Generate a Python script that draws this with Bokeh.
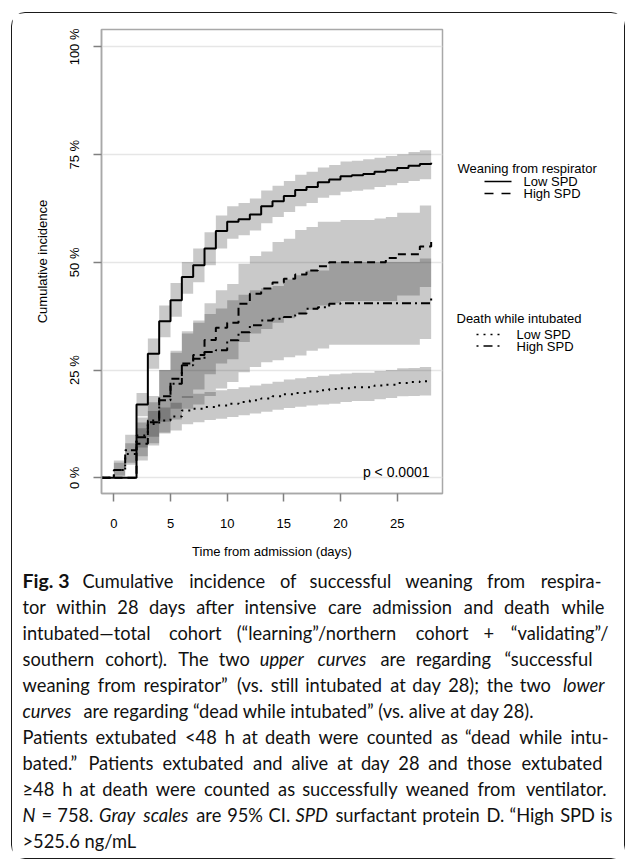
from bokeh.plotting import figure
from bokeh.models import Range1d, FixedTicker, Label
from bokeh.layouts import column, row
from bokeh.embed import file_html
from bokeh.resources import INLINE

# ---------------- data ----------------
x_start = -1.09                      # curves start at the left edge of the panel
step_days = list(range(0, 29))       # value at day d holds on [d, d+1); day 28 = end of follow-up

# cumulative incidence (%) for days 0..27 plus the final value at day 28
wean_low = [0, 0, 17.0, 28.8, 36.3, 41.2, 46.6, 49.3, 53.2, 57.3,
            59.4, 60.0, 61.1, 63.0, 64.2, 65.4, 66.8, 67.5, 68.6, 69.2,
            70.0, 70.2, 70.5, 71.0, 71.4, 71.9, 72.4, 72.8, 73.1]
wean_high = [0, 0, 7.9, 12.9, 18.9, 23.0, 26.5, 28.5, 32.0, 34.8,
             36.0, 40.4, 42.7, 43.9, 45.3, 46.2, 47.2, 48.1, 49.1, 50.0,
             50.0, 50.0, 50.0, 50.0, 51.0, 51.9, 51.9, 53.7, 54.7]
death_low = [1.8, 5.5, 9.8, 12.5, 13.3, 14.2, 15.6, 16.0, 16.4, 16.8,
             17.2, 17.6, 18.0, 18.4, 18.9, 19.4, 19.7, 20.0, 20.3, 20.6,
             20.8, 21.0, 21.0, 21.4, 21.6, 22.0, 22.2, 22.4, 22.6]
death_high = [1.8, 6.4, 9.4, 13.3, 18.0, 21.8, 26.1, 27.6, 29.2, 29.6,
              31.9, 33.8, 35.4, 36.5, 36.9, 37.3, 38.1, 39.2, 39.6, 40.4,
              40.5, 40.5, 40.5, 40.5, 40.5, 40.5, 40.5, 40.5, 41.6]

# 95% CI (%) for days 0..27
wean_low_lo = [0, 0, 14.3, 25.3, 32.6, 37.4, 42.7, 45.4, 49.3, 53.2,
               55.5, 56.3, 57.4, 59.1, 60.5, 61.7, 63.0, 63.8, 65.0, 65.6,
               66.4, 66.6, 66.9, 67.5, 67.9, 68.4, 68.9, 69.3]
wean_low_hi = [0, 0, 19.7, 32.3, 40.0, 45.2, 50.1, 53.2, 57.0, 60.9,
               63.0, 63.8, 64.8, 66.7, 67.8, 68.9, 70.3, 71.0, 72.0, 72.6,
               73.4, 73.6, 73.9, 74.3, 74.7, 75.1, 75.6, 76.0]
wean_high_lo = [0, 0, 4.0, 8.0, 13.0, 16.0, 18.5, 20.5, 24.0, 26.5,
                27.5, 31.5, 33.5, 34.5, 36.0, 37.0, 38.0, 39.0, 40.0, 40.5,
                41.0, 41.0, 41.0, 41.0, 41.0, 42.3, 42.3, 44.3]
wean_high_hi = [0, 0, 11.5, 17.5, 25.0, 29.0, 33.5, 36.0, 40.5, 43.5,
                45.0, 49.7, 51.5, 52.5, 54.7, 55.5, 57.5, 58.2, 59.4, 59.4,
                59.8, 59.8, 59.8, 60.2, 60.5, 61.5, 61.5, 63.2]
death_low_lo = [0.5, 3.5, 7.0, 9.5, 10.3, 11.0, 12.4, 12.9, 13.4, 13.7,
                14.1, 14.5, 14.9, 15.3, 15.8, 16.2, 16.5, 16.8, 17.0, 17.2,
                17.6, 17.8, 17.8, 18.2, 18.5, 18.9, 19.0, 19.1]
death_low_hi = [3.5, 8.0, 12.8, 15.5, 16.3, 17.4, 19.0, 19.5, 19.9, 20.3,
                20.6, 21.0, 21.4, 21.8, 22.3, 22.8, 23.1, 23.4, 23.7, 24.0,
                24.2, 24.4, 24.4, 24.8, 25.0, 25.4, 25.5, 25.7]
death_high_lo = [0.3, 3.0, 5.0, 7.5, 10.5, 13.5, 16.0, 17.0, 19.0, 20.7,
                 22.2, 24.5, 25.7, 26.8, 27.3, 28.0, 28.4, 29.5, 30.0, 30.9,
                 30.9, 30.9, 30.9, 30.9, 30.9, 30.9, 30.9, 32.2]
death_high_hi = [4.0, 10.0, 14.0, 19.0, 25.0, 29.5, 34.0, 36.5, 38.0, 39.3,
                 41.2, 42.5, 43.5, 44.0, 44.5, 46.0, 47.0, 48.1, 48.1, 50.1,
                 50.1, 50.1, 50.1, 50.1, 50.1, 50.1, 50.1, 50.9]

x_ticks = [0, 5, 10, 15, 20, 25]
x_tick_labels = ["0", "5", "10", "15", "20", "25"]
y_ticks = [0, 25, 50, 75, 100]
y_tick_labels = ["0 %", "25 %", "50 %", "75 %", "100 %"]

legend_groups = ["Weaning from respirator", "Death while intubated"]
legend_items = ["Low SPD", "High SPD"]
p_text = "p < 0.0001"
x_title = "Time from admission (days)"
y_title = "Cumulative incidence"

# caption: (text, style) runs per line
caption_prefix = ("Fig. 3", "bold")
caption = [
    [("Cumulative incidence of successful weaning from respira-", "normal")],
    [("tor within 28 days after intensive care admission and death while", "normal")],
    [("intubated\u2014total cohort (\u201clearning\u201d/northern cohort + \u201cvalidating\u201d/", "normal")],
    [("southern cohort). The two", "normal"), ("upper curves", "italic"), ("are regarding \u201csuccessful", "normal")],
    [("weaning from respirator\u201d (vs. still intubated at day 28); the two", "normal"), ("lower", "italic")],
    [("curves", "italic"), ("are regarding \u201cdead while intubated\u201d (vs. alive at day 28).", "normal")],
    [("Patients extubated <48 h at death were counted as \u201cdead while intu-", "normal")],
    [("bated.\u201d Patients extubated and alive at day 28 and those extubated", "normal")],
    [("\u226548 h at death were counted as successfully weaned from ventilator.", "normal")],
    [("N", "italic"), ("= 758.", "normal"), ("Gray scales", "italic"), ("are 95% CI.", "normal"),
     ("SPD", "italic"), ("surfactant protein D. \u201cHigh SPD is", "normal")],
    [(">525.6 ng/mL", "normal")],
]
# justified lines: (left, right) page px; natural lines: None (runs placed at caption_x)
caption_just = [(82, 601), (22, 604), (22, 608), (22, 592), (22, 604), None,
                (22, 608), (22, 602), (22, 606), (22, 612), None]
caption_x = {5: [22, 83], 10: [22]}

# ---------------- layout geometry (page pixels) ----------------
X0, Y0 = 12, 13                 # page position of the content box
WC, HC = 432, 552               # chart figure
WL = 180                        # legend figure (right of chart)
WT, HT = 612, 293               # caption figure (below)
FL, FR, FT, FB = 101, 442, 29, 493   # plot panel in page px
XR = (x_start, 29.0)
YR = (-3.65, 104.04)

FONT = "Liberation Sans"
CAP_FONT = "Lato"
CAP_PX = 18.3

# approximate Lato advance widths (em), used only to spread words for justified lines
LATO_W = {' ': 0.193, 'a': 0.49, 'b': 0.56, 'c': 0.46, 'd': 0.56, 'e': 0.52, 'f': 0.32, 'g': 0.50,
          'h': 0.56, 'i': 0.24, 'j': 0.24, 'k': 0.50, 'l': 0.24, 'm': 0.84, 'n': 0.56, 'o': 0.56,
          'p': 0.56, 'q': 0.56, 'r': 0.37, 's': 0.42, 't': 0.34, 'u': 0.56, 'v': 0.51, 'w': 0.78,
          'x': 0.49, 'y': 0.51, 'z': 0.45, 'A': 0.67, 'B': 0.63, 'C': 0.67, 'D': 0.74, 'E': 0.56,
          'F': 0.54, 'G': 0.72, 'H': 0.75, 'I': 0.28, 'J': 0.38, 'K': 0.65, 'L': 0.50, 'M': 0.91,
          'N': 0.75, 'O': 0.79, 'P': 0.59, 'Q': 0.79, 'R': 0.62, 'S': 0.53, 'T': 0.57, 'U': 0.72,
          'V': 0.67, 'W': 0.99, 'X': 0.64, 'Y': 0.61, 'Z': 0.59, '.': 0.22, ',': 0.22, ';': 0.24,
          ':': 0.24, '(': 0.30, ')': 0.30, '/': 0.37, '-': 0.32, '\u2014': 0.88, '\u201c': 0.38,
          '\u201d': 0.38, '<': 0.58, '>': 0.58, '\u2265': 0.58, '+': 0.58, '=': 0.58, '%': 0.78}


def text_w(s):
    return 1.03 * CAP_PX * sum(LATO_W.get(c, 0.58) for c in s)


p = figure(width=WC, height=HC, x_range=Range1d(*XR), y_range=Range1d(*YR),
           output_backend="svg", toolbar_location=None,
           min_border_left=FL - X0, min_border_right=WC - (FR - X0),
           min_border_top=FT - Y0, min_border_bottom=HC - (FB - Y0))
p.background_fill_color = "white"
p.border_fill_color = "white"
p.outline_line_color = "#a8a8a8"
p.outline_line_width = 1.5

for ax in (p.xaxis[0], p.yaxis[0]):
    ax.axis_line_color = "#a8a8a8"
    ax.axis_line_width = 1.5
    ax.major_tick_line_color = "#808080"
    ax.major_tick_line_width = 1.5
    ax.major_tick_out = 8
    ax.major_tick_in = 0
    ax.minor_tick_line_color = None
    ax.major_label_text_font = FONT
    ax.major_label_text_font_size = "13px"
    ax.major_label_text_color = "black"
    ax.axis_label_text_font = FONT
    ax.axis_label_text_font_size = "13px"
    ax.axis_label_text_font_style = "normal"
    ax.axis_label_text_color = "black"

p.xaxis.ticker = FixedTicker(ticks=x_ticks)
p.xaxis.major_label_overrides = dict(zip(x_ticks, x_tick_labels))
p.xaxis.axis_label = x_title
p.xaxis.major_label_standoff = 17
p.xaxis.axis_label_standoff = 13

p.yaxis.ticker = FixedTicker(ticks=y_ticks)
p.yaxis.major_label_overrides = dict(zip(y_ticks, y_tick_labels))
p.yaxis.major_label_orientation = "vertical"
p.yaxis.axis_label = y_title
p.yaxis.major_label_standoff = 11
p.yaxis.axis_label_standoff = 15

p.xgrid.visible = False
p.ygrid.grid_line_color = "#e6e6e6"
p.ygrid.grid_line_width = 1.5

times = [x_start] + step_days

bands = [(wean_low_lo, wean_low_hi), (wean_high_lo, wean_high_hi),
         (death_low_lo, death_low_hi), (death_high_lo, death_high_hi)]
for lo, hi in bands:
    p.varea_step(x=times, y1=[0] + lo + [lo[-1]], y2=[0] + hi + [hi[-1]],
                 step_mode="after", fill_color="black", fill_alpha=0.21)

styles = [(wean_low, "solid"), (wean_high, "8 5"), (death_low, "2 5"), (death_high, "9 4 2 4")]
for vals, dash in styles:
    p.step(times, [0] + vals, mode="after", line_color="black", line_width=2, line_dash=dash)


def dx(px):
    return XR[0] + (px - FL) * (XR[1] - XR[0]) / (FR - FL)


def dy(py):
    return YR[1] - (py - FT) * (YR[1] - YR[0]) / (FB - FT)


p.add_layout(Label(x=dx(429), y=dy(471.7), text=p_text, text_align="right", text_baseline="middle",
                   text_font=FONT, text_font_size="14px", text_color="black"))

# ---------------- legend panel (its frame is aligned with the chart panel; page px coordinates) ----
lg = figure(width=WL, height=HC, x_range=Range1d(X0 + WC, X0 + WC + WL), y_range=Range1d(FB, FT),
            x_axis_location=None, y_axis_location=None, output_backend="svg", toolbar_location=None,
            min_border_left=0, min_border_right=0, min_border_top=FT - Y0,
            min_border_bottom=HC - (FB - Y0), outline_line_color=None)
lg.grid.visible = False

leg_dash = [["solid", "9 8"], ["2 5", "2 5 9 5"]]
leg_title_xy = [(457, 168), (456, 318)]
leg_item_y = [[181, 193], [334, 345.5]]
leg_line_x = [(484, 511), (476, 499)]
leg_text_x = [523, 516]
for g in range(2):
    lg.add_layout(Label(x=leg_title_xy[g][0], y=leg_title_xy[g][1], text=legend_groups[g],
                        text_align="left", text_baseline="middle", text_font=FONT,
                        text_font_size="13px", text_color="black"))
    for i in range(2):
        yy = leg_item_y[g][i]
        lg.line(list(leg_line_x[g]), [yy, yy], line_color="black", line_width=1.5,
                line_dash=leg_dash[g][i])
        lg.add_layout(Label(x=leg_text_x[g], y=yy, text=legend_items[i], text_align="left",
                            text_baseline="middle", text_font=FONT, text_font_size="13px",
                            text_color="black"))

# ---------------- caption panel (page px coordinates) ----------------
TY0 = Y0 + HC
cp = figure(width=WT, height=HT, x_range=Range1d(X0, X0 + WT), y_range=Range1d(TY0 + HT, TY0),
            x_axis_location=None, y_axis_location=None, output_backend="svg", toolbar_location=None,
            min_border=0, outline_line_color=None)
cp.grid.visible = False


def cap_label(txt, x, y, st, align="left", size=CAP_PX):
    cp.add_layout(Label(x=x, y=y, text=txt, text_align=align, text_baseline="middle",
                        text_font=CAP_FONT, text_font_size=f"{size}px",
                        text_font_style=st, text_color="#111111"))


cap_y0, cap_dy = 580, 26.0
cap_label(caption_prefix[0], 22, cap_y0, caption_prefix[1], size=19.5)
for li, runs in enumerate(caption):
    y = cap_y0 + li * cap_dy
    just = caption_just[li]
    if just is None:
        for (txt, st), xpx in zip(runs, caption_x[li]):
            cap_label(txt, xpx, y, st)
        continue
    words = [(w, st) for txt, st in runs for w in txt.split(" ")]
    widths = [text_w(w) for w, _ in words]
    gap = (just[1] - just[0] - sum(widths)) / (len(words) - 1)
    x = just[0]
    for k, ((w, st), ww) in enumerate(zip(words, widths)):
        if k == len(words) - 1:
            cap_label(w, just[1], y, st, align="right")
        else:
            cap_label(w, x, y, st)
        x += ww + gap

layout = column(row(p, lg), cp,
                styles={"border": "1.4px solid #1a1a1a", "border-radius": "14px",
                        "margin-left": "11px", "margin-top": "12px"})

open("out.html", "w").write(file_html(layout, INLINE))
